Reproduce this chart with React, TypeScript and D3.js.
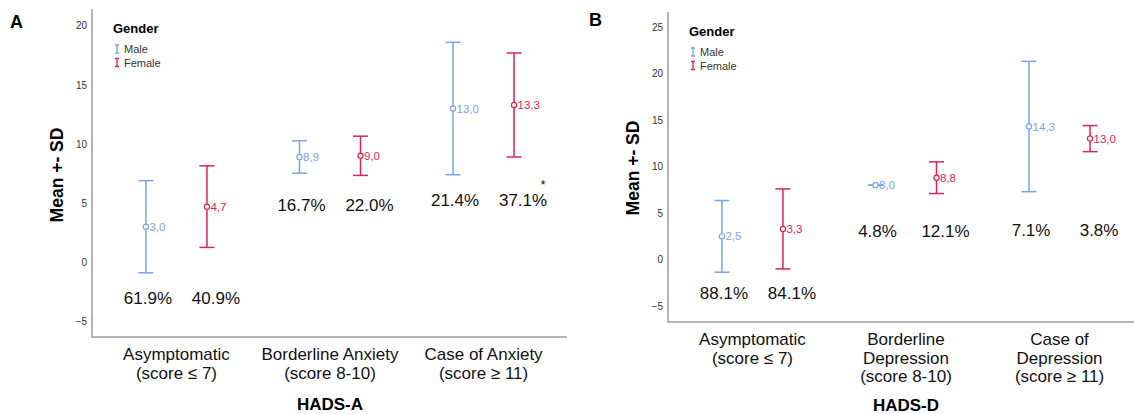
import * as d3 from "d3";
import { useEffect, useRef } from "react";

// Data
const genders = ["Male", "Female"];
const genderColors = ["#76a5ea", "#de2354"];

const anxietyCats = ["Asymptomatic|(score ≤ 7)", "Borderline Anxiety|(score 8-10)", "Case of Anxiety|(score ≥ 11)"];
const anxietyMaleMean = [3.0, 8.9, 13.0];
const anxietyMaleSd = [3.9, 1.37, 5.6];
const anxietyFemaleMean = [4.7, 9.0, 13.3];
const anxietyFemaleSd = [3.45, 1.66, 4.4];
const anxietyMalePct = ["61.9%", "16.7%", "21.4%"];
const anxietyFemalePct = ["40.9%", "22.0%", "37.1%"];
const anxietyPctAt = [-3.0, 4.85, 5.27];
const anxietyTicks = [-5, 0, 5, 10, 15, 20];

const depressionCats = ["Asymptomatic|(score ≤ 7)", "Borderline|Depression|(score 8-10)", "Case of|Depression|(score ≥ 11)"];
const depressionMaleMean = [2.5, 8.0, 14.3];
const depressionMaleSd = [3.85, 0.0, 7.0];
const depressionFemaleMean = [3.3, 8.8, 13.0];
const depressionFemaleSd = [4.3, 1.7, 1.4];
const depressionMalePct = ["88.1%", "4.8%", "7.1%"];
const depressionFemalePct = ["84.1%", "12.1%", "3.8%"];
const depressionPctAt = [-3.55, 3.1, 3.2];
const depressionTicks = [-5, 0, 5, 10, 15, 20, 25];

const FONT = "'Liberation Sans', Arial, sans-serif";
const fmt = (v: number) => v.toFixed(1).replace(".", ",");

const drawPanel = (svg: any, p: any) => {
  const g = svg.append("g");

  const yScale = d3.scaleLinear().domain(p.domain).range([p.bottom, p.top]);
  const xScale = d3.scalePoint().domain(p.cats).range([p.left, p.left + 476]).padding(0.55);
  const offset = 30.5;

  // panel letter
  g.append("text").attr("x", p.letterX).attr("y", p.letterY)
    .style("font", `bold 18px ${FONT}`).text(p.letter);

  // axes
  g.append("line").attr("x1", p.left).attr("x2", p.left).attr("y1", p.top).attr("y2", p.bottom)
    .attr("stroke", "#b4b4b4").attr("stroke-width", 2);
  g.append("line").attr("x1", p.left - 1).attr("x2", p.right).attr("y1", p.bottom).attr("y2", p.bottom)
    .attr("stroke", "#b4b4b4").attr("stroke-width", 2);

  const yAxis = d3.axisLeft(yScale).tickValues(p.ticks).tickSize(0).tickPadding(5);
  const yAxisGroup = g.append("g").attr("transform", `translate(${p.left},0)`).call(yAxis);
  yAxisGroup.select(".domain").remove();
  yAxisGroup.selectAll("text").style("font", `10px ${FONT}`).attr("fill", "#333");

  // y title
  g.append("text").attr("transform", `translate(${p.left - 29},${p.yTitleY}) rotate(-90)`)
    .attr("text-anchor", "middle").style("font", `bold 17.5px ${FONT}`).text("Mean +- SD");

  // category labels
  p.cats.forEach((c: string) => {
    const lines = c.split("|");
    const t = g.append("text").attr("text-anchor", "middle").style("font", `17px ${FONT}`).attr("fill", "#111");
    lines.forEach((l, i) => {
      t.append("tspan").attr("x", xScale(c)).attr("y", p.bottom + 23 + i * 18.5).text(l);
    });
  });

  // x title
  g.append("text").attr("x", xScale(p.cats[1])).attr("y", p.xTitleY).attr("text-anchor", "middle")
    .style("font", `bold 17px ${FONT}`).text(p.xTitle);

  // legend
  const lg = g.append("g").attr("transform", `translate(${p.left + 21},${p.top})`);
  lg.append("text").attr("x", 0).attr("y", p.legendY).style("font", `bold 13px ${FONT}`).text("Gender");
  genders.forEach((name, i) => {
    const y = p.legendY + 16 + i * 13.5;
    lg.append("path").attr("d", `M${2},${y - 4}h4M${4},${y - 4}v8M${2},${y + 4}h4`)
      .attr("stroke", genderColors[i]).attr("stroke-width", 1.3).attr("fill", "none");
    lg.append("text").attr("x", 11).attr("y", y + 4).style("font", `11px ${FONT}`).attr("fill", "#333").text(name);
  });

  // error bars
  const series = [
    { mean: p.maleMean, sd: p.maleSd, pct: p.malePct, dx: -offset, pdx: 2 },
    { mean: p.femaleMean, sd: p.femaleSd, pct: p.femalePct, dx: offset, pdx: 9 },
  ];
  series.forEach((s, si) => {
    const color = genderColors[si];
    p.cats.forEach((c: string, i: number) => {
      const cx = (xScale(c) as number) + s.dx;
      const hi = yScale(s.mean[i] + s.sd[i]);
      const lo = yScale(s.mean[i] - s.sd[i]);
      const my = yScale(s.mean[i]);
      g.append("line").attr("x1", cx).attr("x2", cx).attr("y1", hi).attr("y2", lo)
        .attr("stroke", color).attr("stroke-width", 1.5);
      [hi, lo].forEach(y => {
        g.append("line").attr("x1", cx - 7.5).attr("x2", cx + 7.5).attr("y1", y).attr("y2", y)
          .attr("stroke", color).attr("stroke-width", 1.5);
      });
      g.append("circle").attr("cx", cx).attr("cy", my).attr("r", 2.6)
        .attr("fill", "white").attr("stroke", color).attr("stroke-width", 1.2);
      g.append("text").attr("x", cx + 3.5).attr("y", my + 4).style("font", `11.5px ${FONT}`)
        .attr("fill", color).text(fmt(s.mean[i]));

      // percentage label
      g.append("text").attr("x", cx + s.pdx).attr("y", yScale(p.pctAt[i]) + 6)
        .attr("text-anchor", "middle").style("font", `17px ${FONT}`).attr("fill", "#111").text(s.pct[i]);
    });
  });

  if (p.star) {
    const cx = (xScale(p.cats[2]) as number) + offset;
    g.append("text").attr("x", cx + 29).attr("y", yScale(p.pctAt[2]) - 11)
      .attr("text-anchor", "middle").style("font", `12px ${FONT}`).text("*");
  }
};

const showChart = (el: SVGSVGElement) => {
  const svg = d3.select(el);
  svg.selectAll("*").remove();

  drawPanel(svg, {
    letter: "A", letterX: 10, letterY: 28, left: 92, right: 567, top: 9, bottom: 337,
    domain: [-6.33, 21.42], ticks: anxietyTicks, cats: anxietyCats,
    maleMean: anxietyMaleMean, maleSd: anxietyMaleSd, femaleMean: anxietyFemaleMean, femaleSd: anxietyFemaleSd,
    malePct: anxietyMalePct, femalePct: anxietyFemalePct, pctAt: anxietyPctAt,
    yTitleY: 175, xTitle: "HADS-A", xTitleY: 410, legendY: 24, star: true,
  });

  drawPanel(svg, {
    letter: "B", letterX: 589, letterY: 26, left: 668, right: 1134, top: 12, bottom: 322,
    domain: [-6.7, 26.6], ticks: depressionTicks, cats: depressionCats,
    maleMean: depressionMaleMean, maleSd: depressionMaleSd, femaleMean: depressionFemaleMean, femaleSd: depressionFemaleSd,
    malePct: depressionMalePct, femalePct: depressionFemalePct, pctAt: depressionPctAt,
    yTitleY: 168, xTitle: "HADS-D", xTitleY: 411, legendY: 24, star: false,
  });
};

export default function App() {
  const ref = useRef<SVGSVGElement>(null);

  useEffect(() => {
    if (ref.current) showChart(ref.current);
  }, []);

  return (
    <svg ref={ref} width={1134} height={414}
      style={{ position: "absolute", left: 0, top: 0, background: "white" }} />
  );
}
